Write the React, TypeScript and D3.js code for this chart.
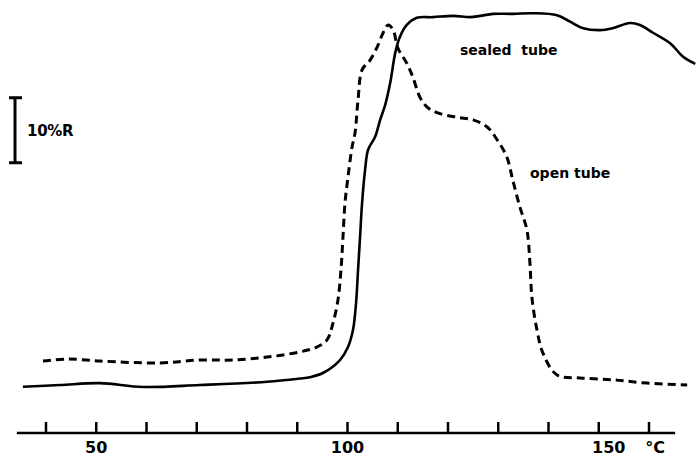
import React from 'react';
import * as d3 from 'd3';

// temperature (°C) and reflectance (%R)
const sealedT = [35.4, 42.8, 50.7, 59.3, 70.6, 84.0, 90.5, 92.5, 95.1, 98.5, 100.1, 101.1, 101.7, 102.1, 102.5, 102.9, 103.5, 104.1, 105.5, 106.5, 107.5, 108.5, 109.5, 110.4, 111.8, 113.8, 117.0, 121.0, 124.4, 126.4, 129.0, 132.9, 136.9, 141.7, 144.3, 146.9, 150.2, 152.8, 156.2, 158.2, 160.8, 164.2, 166.8, 169.2];
const sealedR = [2.05, 2.3, 2.6, 2.0, 2.3, 2.8, 3.3, 3.5, 4.15, 6.15, 8.15, 10.8, 14.9, 20.0, 25.1, 30.3, 35.4, 38.5, 40.5, 43.1, 45.4, 48.8, 53.4, 55.8, 57.7, 58.8, 58.9, 59.1, 58.9, 59.1, 59.4, 59.4, 59.5, 59.2, 58.2, 57.2, 56.9, 57.2, 58.0, 57.7, 56.5, 54.9, 52.8, 51.7];

const openT = [39.4, 44.2, 50.7, 62.7, 70.6, 77.2, 84.0, 90.5, 93.9, 95.9, 97.1, 98.1, 98.7, 99.1, 99.5, 100.1, 100.9, 101.5, 102.1, 102.9, 104.5, 105.9, 107.1, 108.1, 109.1, 110.0, 111.8, 113.0, 114.4, 115.8, 117.8, 121.8, 125.0, 127.8, 129.8, 131.7, 132.9, 134.3, 135.7, 136.3, 136.7, 137.7, 138.9, 141.7, 146.3, 152.8, 159.6, 167.6];
const openR = [6.0, 6.3, 6.0, 5.7, 6.15, 6.15, 6.6, 7.4, 8.15, 9.2, 11.8, 15.4, 20.0, 25.1, 30.3, 34.3, 38.9, 41.1, 46.2, 50.8, 52.3, 54.3, 56.5, 57.7, 56.9, 54.2, 51.8, 49.7, 46.6, 45.1, 44.2, 43.5, 43.1, 42.0, 40.0, 37.4, 33.8, 29.7, 26.2, 21.1, 15.8, 10.8, 7.2, 3.85, 3.4, 3.1, 2.6, 2.3];

const tickValues = d3.range(40, 161, 10);
const tickLabels = [
  { t: 50, text: '50' },
  { t: 100, text: '100' },
  { t: 152, text: '150' },
];

const W = 697;
const H = 456;
const FONT = '"DejaVu Sans", "Liberation Sans", sans-serif';

export default function App() {
  const x = d3.scaleLinear().domain([40, 160]).range([46, 649]);
  const y = d3.scaleLinear().domain([0, 60]).range([400, 10]);

  const line = d3.line<[number, number]>()
    .x(d => x(d[0]))
    .y(d => y(d[1]))
    .curve(d3.curveCatmullRom.alpha(0.5));

  const sealed = sealedT.map((t, i) => [t, sealedR[i]] as [number, number]);
  const open = openT.map((t, i) => [t, openR[i]] as [number, number]);

  const axisY = 433;
  const barTop = y(46.5);
  const barBottom = y(36.5);

  return (
    <svg width={W} height={H} style={{ position: 'absolute', left: 0, top: 0, background: '#fff' }}>
      {/* traces */}
      <path d={line(open) || ''} fill="none" stroke="#000" strokeWidth={3} strokeDasharray="8 5" />
      <path d={line(sealed) || ''} fill="none" stroke="#000" strokeWidth={2.6} strokeLinejoin="round" />

      {/* scale bar */}
      <g stroke="#000" strokeWidth={3}>
        <line x1={15} x2={15} y1={barTop} y2={barBottom} />
        <line x1={9} x2={22} y1={barTop} y2={barTop} />
        <line x1={9} x2={22} y1={barBottom} y2={barBottom} />
      </g>
      <text x={27} y={(barTop + barBottom) / 2 + 6} fontFamily={FONT} fontWeight="bold" fontSize={15} letterSpacing={-0.3}>
        10%R
      </text>

      {/* labels */}
      <text x={460} y={55} fontFamily={FONT} fontWeight="bold" fontSize={14} style={{ whiteSpace: 'pre' }}>
        sealed  tube
      </text>
      <text x={530} y={178} fontFamily={FONT} fontWeight="bold" fontSize={14}>
        open tube
      </text>

      {/* temperature axis */}
      <line x1={x(34.2)} x2={x(165.2)} y1={axisY} y2={axisY} stroke="#000" strokeWidth={2.5} />
      {tickValues.map(t => (
        <line key={t} x1={x(t)} x2={x(t)} y1={axisY - 11} y2={axisY} stroke="#000" strokeWidth={2.5} />
      ))}
      {tickLabels.map(d => (
        <text key={d.t} x={x(d.t)} y={453} textAnchor="middle" fontFamily={FONT} fontWeight="bold" fontSize={16}>
          {d.text}
        </text>
      ))}
      <text x={655} y={453} textAnchor="middle" fontFamily={FONT} fontWeight="bold" fontSize={16}>
        °C
      </text>
    </svg>
  );
}
